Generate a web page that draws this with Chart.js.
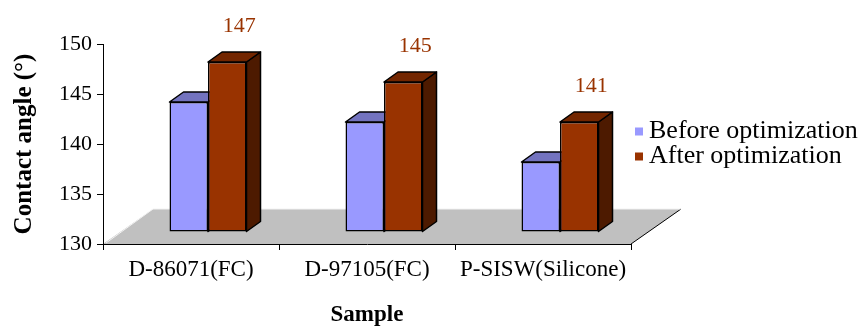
<!DOCTYPE html>
<html>
<head>
<meta charset="utf-8">
<script src="https://cdn.jsdelivr.net/npm/chart.js@4.4.0/dist/chart.umd.min.js"></script>
<style>
  html, body { margin: 0; padding: 0; background: #fff; }
  #wrap { width: 863px; height: 327px; }
</style>
</head>
<body>
<div id="wrap"><canvas id="contact-angle-chart"></canvas></div>
<script>
const samples = ['D-86071(FC)', 'D-97105(FC)', 'P-SISW(Silicone)'];
const beforeValues = [143, 141, 137];
const afterValues = [147, 145, 141];
const seriesNames = ['Before optimization', 'After optimization'];
const yMin = 130;
const yMax = 150;
const yStep = 5;

const serif = "'Liberation Serif', 'Times New Roman', serif";

// bars stand a bit back on the floor, and have some depth
const shift = { x: 17, y: 12 };
const depth = { x: 14, y: 10 };
const floorDepth = { x: 50, y: 35 };

const faces = [
    { front: '#9999ff', top: '#7373bf', side: '#4d4d80' },
    { front: '#993300', top: '#732600', side: '#4d1a00' }
];

function poly(ctx, pts, fill) {
    ctx.beginPath();
    ctx.moveTo(pts[0][0], pts[0][1]);
    for (let i = 1; i < pts.length; i++) ctx.lineTo(pts[i][0], pts[i][1]);
    ctx.closePath();
    ctx.fillStyle = fill;
    ctx.fill();
    ctx.stroke();
}

const floorPlugin = {
    id: 'floor',
    beforeDraw(chart) {
        const { ctx, chartArea: a } = chart;
        ctx.save();
        ctx.beginPath();
        ctx.moveTo(a.left, a.bottom);
        ctx.lineTo(a.right, a.bottom);
        ctx.lineTo(a.right + floorDepth.x, a.bottom - floorDepth.y);
        ctx.lineTo(a.left + floorDepth.x, a.bottom - floorDepth.y);
        ctx.closePath();
        ctx.fillStyle = '#c0c0c0';
        ctx.fill();
        ctx.strokeStyle = '#000';
        ctx.lineWidth = 1;
        ctx.beginPath();
        ctx.moveTo(a.right, a.bottom);
        ctx.lineTo(a.right + floorDepth.x, a.bottom - floorDepth.y);
        ctx.stroke();
        ctx.strokeStyle = '#f2f2f2';
        ctx.beginPath();
        ctx.moveTo(a.left + 3, a.bottom - 1);
        ctx.lineTo(a.left + floorDepth.x, a.bottom - floorDepth.y);
        ctx.lineTo(a.right + floorDepth.x, a.bottom - floorDepth.y);
        ctx.stroke();
        ctx.restore();
    }
};

const bars3dPlugin = {
    id: 'bars3d',
    beforeDatasetsDraw(chart) {
        const ctx = chart.ctx;
        ctx.save();
        ctx.strokeStyle = '#000';
        ctx.lineWidth = 1.5;
        ctx.lineJoin = 'round';
        chart.data.datasets.forEach((ds, i) => {
            chart.getDatasetMeta(i).data.forEach(bar => {
                const l = bar.x - bar.width / 2 + shift.x;
                const r = bar.x + bar.width / 2 + shift.x;
                const t = bar.y - shift.y;
                const b = bar.base - shift.y;
                poly(ctx, [[r, t], [r + depth.x, t - depth.y], [r + depth.x, b - depth.y], [r, b]], faces[i].side);
                poly(ctx, [[l, t], [r, t], [r + depth.x, t - depth.y], [l + depth.x, t - depth.y]], faces[i].top);
            });
        });
        ctx.restore();
        // front faces are drawn by chart.js, moved back onto the floor
        ctx.save();
        ctx.translate(shift.x, -shift.y);
    },
    afterDatasetsDraw(chart) {
        const ctx = chart.ctx;
        ctx.restore();
        ctx.save();
        ctx.font = '22px ' + serif;
        ctx.fillStyle = '#993300';
        ctx.textAlign = 'center';
        ctx.textBaseline = 'middle';
        chart.getDatasetMeta(1).data.forEach((bar, j) => {
            ctx.fillText(afterValues[j], bar.x + shift.x + 12, bar.y - shift.y - 36);
        });
        ctx.restore();
    },
    afterDraw(chart) {
        // legend to the right of the plot, centred on it
        const { ctx, chartArea: a } = chart;
        const midY = (a.top + a.bottom) / 2;
        ctx.save();
        ctx.font = '26px ' + serif;
        ctx.textAlign = 'left';
        ctx.textBaseline = 'middle';
        chart.data.datasets.forEach((ds, i) => {
            const y = midY + (i - 0.5) * 25;
            ctx.fillStyle = ds.backgroundColor;
            ctx.fillRect(a.right + 4, y - 4, 8, 8);
            ctx.fillStyle = '#000';
            ctx.fillText(ds.label, a.right + 18, y);
        });
        ctx.restore();
    }
};

new Chart(document.getElementById('contact-angle-chart'), {
    type: 'bar',
    data: {
        labels: samples,
        datasets: [{
            label: seriesNames[0],
            data: beforeValues,
            base: yMin,
            backgroundColor: faces[0].front,
            borderColor: '#000',
            borderWidth: 1.5,
            borderSkipped: false
        }, {
            label: seriesNames[1],
            data: afterValues,
            base: yMin,
            backgroundColor: faces[1].front,
            borderColor: '#000',
            borderWidth: 1.5,
            borderSkipped: false
        }]
    },
    options: {
        responsive: true,
        maintainAspectRatio: false,
        animation: false,
        categoryPercentage: 0.4375,
        barPercentage: 1,
        layout: { padding: { top: 44, right: 232, left: 0, bottom: 0 } },
        plugins: {
            tooltip: { enabled: false },
            legend: { display: false }
        },
        scales: {
            x: {
                grid: { offset: true, drawOnChartArea: false, color: '#000', tickLength: 6 },
                border: { color: '#000', width: 1 },
                ticks: { font: { family: serif, size: 23 }, color: '#000', padding: 6 },
                title: {
                    display: true,
                    text: 'Sample',
                    font: { family: serif, size: 23, weight: 'bold', lineHeight: 1 },
                    color: '#000',
                    padding: { top: 12, bottom: 0 }
                },
                afterFit: scale => { scale.height = 83; }
            },
            y: {
                min: yMin,
                max: yMax,
                ticks: { stepSize: yStep, font: { family: serif, size: 22 }, color: '#000', padding: 5 },
                grid: { drawOnChartArea: false, color: '#000', tickLength: 6 },
                border: { color: '#000', width: 1 },
                title: {
                    display: true,
                    text: 'Contact angle (°)',
                    font: { family: serif, size: 25, weight: 'bold' },
                    color: '#000',
                    padding: { top: 10, bottom: 0 }
                },
                afterFit: scale => { scale.width = 103; }
            }
        }
    },
    plugins: [floorPlugin, bars3dPlugin]
});
</script>
</body>
</html>
